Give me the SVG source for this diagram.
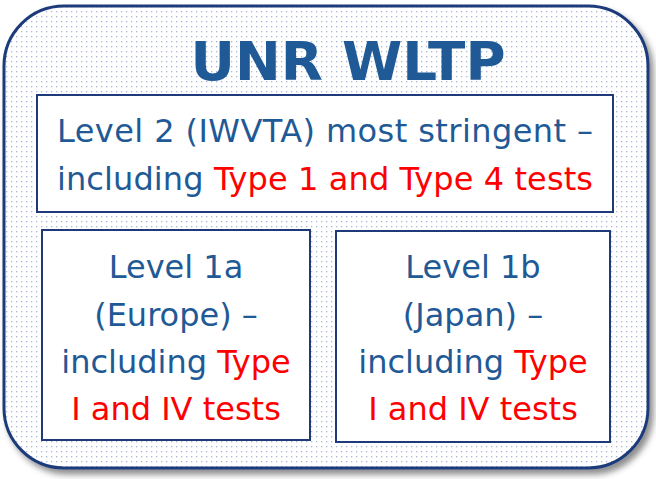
<svg xmlns="http://www.w3.org/2000/svg" width="656" height="479" viewBox="0 0 656 479">
<style>
.box{fill:#fff;stroke:#1f3a7a;stroke-width:2}
.t{font-family:"DejaVu Sans",Verdana,sans-serif;font-size:32px;fill:#1f5a96}
.r{fill:#ff0000}
.title{font-family:"DejaVu Sans",Verdana,sans-serif;font-weight:bold;font-size:53px;fill:#1f5a96}
</style>
<defs>
<pattern id="dots" width="5" height="5" patternUnits="userSpaceOnUse">
<rect width="5" height="5" fill="#fff"/>
<rect x="1" y="1" width="1.3" height="1.3" fill="#aab6d2"/>
</pattern>
<filter id="sh" x="-5%" y="-5%" width="115%" height="115%">
<feDropShadow dx="4" dy="5" stdDeviation="3" flood-color="#000" flood-opacity="0.45"/>
</filter>
</defs>
<g id="frame">
<rect x="4" y="6" width="644" height="462" rx="60" ry="60" fill="url(#dots)" stroke="#1f3a7a" stroke-width="3" filter="url(#sh)"/>
<text class="title" x="348" y="80" text-anchor="middle" textLength="315" lengthAdjust="spacingAndGlyphs">UNR WLTP</text>
</g>
<g id="level2">
<rect class="box" x="37" y="95" width="576" height="117"/>
<text class="t" x="325" y="142" text-anchor="middle" textLength="536">Level 2 (IWVTA) most stringent –</text>
<text class="t" x="325" y="190" text-anchor="middle" textLength="536">including <tspan class="r">Type 1 and Type 4 tests</tspan></text>
</g>
<g id="level1a">
<rect class="box" x="42" y="230" width="268" height="210"/>
<text class="t" x="176" y="278" text-anchor="middle">Level 1a</text>
<text class="t" x="176" y="326" text-anchor="middle">(Europe) –</text>
<text class="t" x="176" y="373" text-anchor="middle">including <tspan class="r">Type</tspan></text>
<text class="t r" x="176" y="420" text-anchor="middle">I and IV tests</text>
</g>
<g id="level1b">
<rect class="box" x="336" y="231" width="274" height="211"/>
<text class="t" x="473" y="278" text-anchor="middle">Level 1b</text>
<text class="t" x="473" y="326" text-anchor="middle">(Japan) –</text>
<text class="t" x="473" y="373" text-anchor="middle">including <tspan class="r">Type</tspan></text>
<text class="t r" x="473" y="420" text-anchor="middle">I and IV tests</text>
</g>
<g id="connectors"></g>
</svg>
